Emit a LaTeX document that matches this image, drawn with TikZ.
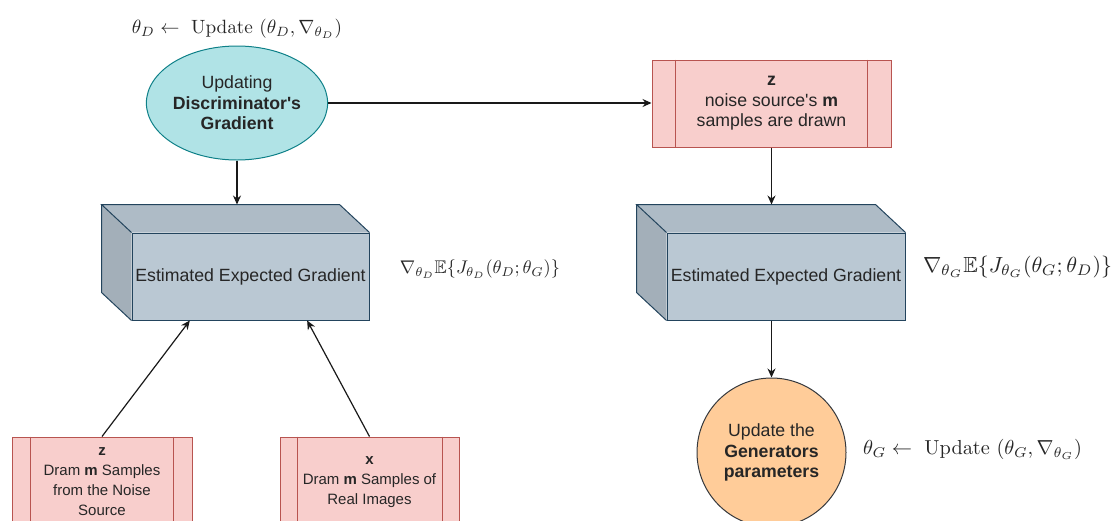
\documentclass[tikz,border=0pt]{standalone}
\usepackage[no-math]{fontspec}
\usepackage{amsmath,amssymb}
\usepackage{graphicx}
\newfontfamily\arial{Liberation Sans}
\usetikzlibrary{arrows.meta,shapes.geometric,calc}

\definecolor{cyanfill}{HTML}{B0E3E6}
\definecolor{cyanline}{HTML}{0E8088}
\definecolor{pinkfill}{HTML}{F8CECC}
\definecolor{pinkline}{HTML}{B85450}
\definecolor{cubefront}{HTML}{BAC8D3}
\definecolor{cubetop}{HTML}{AEBBC6}
\definecolor{cubeside}{HTML}{A3AFB9}
\definecolor{cubeline}{HTML}{23445D}
\definecolor{orangefill}{HTML}{FFCC99}
\definecolor{orangeline}{HTML}{36393D}
\definecolor{ink}{HTML}{262626}

\begin{document}
\begin{tikzpicture}[x=1pt,y=-1pt,
  txt/.style={font=\arial\fontsize{17.7}{20.5}\selectfont, text=ink, align=center},
  smalltxt/.style={font=\arial\fontsize{15}{20}\selectfont, text=ink, align=center},
  procbox/.style={rectangle, draw=pinkline, fill=pinkfill, line width=1pt, inner sep=0pt},
  cubeface/.style={rectangle, draw=cubeline, fill=cubefront, line width=1pt, inner sep=0pt,
    minimum width=237pt, minimum height=87pt},
  cubeback/.style={draw=cubeline, line width=1pt, line join=miter},
  arr/.style={draw=black!90, line width=1.2pt, -{Stealth[length=9pt,width=8pt]}},
  eq/.style={inner sep=0pt, text=ink}]
\useasboundingbox (0,0) rectangle (1116,520);

% discriminator branch
\node[ellipse, draw=cyanline, fill=cyanfill, line width=1pt, minimum width=181pt,
  minimum height=114pt, inner sep=0pt, txt] (updD) at (237,103)
  {Updating\\\textbf{Discriminator's}\\\textbf{Gradient}};

\node[cubeface, txt] (gradD) at (250.5,276.5) {Estimated Expected Gradient};
\coordinate (gradDnw) at ($(gradD.north west)+(-30,-28)$);
\coordinate (gradDne) at ($(gradD.north east)+(-30,-28)$);
\coordinate (gradDsw) at ($(gradD.south west)+(-30,-28)$);
\fill[cubetop] (gradD.north west) -- (gradDnw) -- (gradDne) -- (gradD.north east) -- cycle;
\fill[cubeside] (gradD.north west) -- (gradDnw) -- (gradDsw) -- (gradD.south west) -- cycle;
\draw[cubeback] (gradD.north west) -- (gradDnw) -- (gradDne) -- (gradD.north east);
\draw[cubeback] (gradDnw) -- (gradDsw) -- (gradD.south west);

\node[procbox, smalltxt, minimum width=180pt, minimum height=90pt] (zsrc) at (102,482)
  {\textbf{z}\\Dram \textbf{m} Samples\\from the Noise\\Source};
\node[procbox, smalltxt, minimum width=179pt, minimum height=90pt] (xsrc) at (369.5,482)
  {\textbf{x}\\Dram \textbf{m} Samples of\\Real Images};

% generator branch
\node[procbox, txt, minimum width=239pt, minimum height=87pt] (noise) at (771.5,103.5)
  {\textbf{z}\\noise source's \textbf{m}\\samples are drawn};

\node[cubeface, txt, minimum width=238pt] (gradG) at (786,276.5) {Estimated Expected Gradient};
\coordinate (gradGnw) at ($(gradG.north west)+(-30,-28)$);
\coordinate (gradGne) at ($(gradG.north east)+(-30,-28)$);
\coordinate (gradGsw) at ($(gradG.south west)+(-30,-28)$);
\fill[cubetop] (gradG.north west) -- (gradGnw) -- (gradGne) -- (gradG.north east) -- cycle;
\fill[cubeside] (gradG.north west) -- (gradGnw) -- (gradGsw) -- (gradG.south west) -- cycle;
\draw[cubeback] (gradG.north west) -- (gradGnw) -- (gradGne) -- (gradG.north east);
\draw[cubeback] (gradGnw) -- (gradGsw) -- (gradG.south west);

\node[circle, draw=orangeline, fill=orangefill, line width=1pt, minimum size=149pt,
  inner sep=0pt, txt] (updG) at (771.5,452.5)
  {Update the\\\textbf{Generators}\\\textbf{parameters}};

% double side bars of the process boxes
\draw[pinkline, line width=1pt] ($(noise.north west)+(24,0)$) -- ($(noise.south west)+(24,0)$)
  ($(noise.north east)+(-24,0)$) -- ($(noise.south east)+(-24,0)$);
\draw[pinkline, line width=1pt] ($(zsrc.north west)+(19,0)$) -- ($(zsrc.south west)+(19,0)$)
  ($(zsrc.north east)+(-19,0)$) -- ($(zsrc.south east)+(-19,0)$);
\draw[pinkline, line width=1pt] ($(xsrc.north west)+(18,0)$) -- ($(xsrc.south west)+(18,0)$)
  ($(xsrc.north east)+(-17,0)$) -- ($(xsrc.south east)+(-17,0)$);

% connectors
\coordinate (inZ) at ($(gradD.south west)!0.245!(gradD.south east)$);
\coordinate (inX) at ($(gradD.south west)!0.738!(gradD.south east)$);
\draw[arr] (updD.east) -- (updD.east -| noise.west);
\draw[arr] (updD.south) -- (updD.south |- gradDnw);
\draw[arr] (noise.south) -- (noise.south |- gradGnw);
\draw[arr] (updG.north |- gradG.south) -- (updG.north);
\draw[arr] (zsrc.north) -- (inZ);
\draw[arr] (xsrc.north) -- (inX);

% update rules and gradient estimates
\node[eq] (ruleD) at (237,29)
  {\resizebox{210pt}{!}{$\theta_D \leftarrow\ \mathrm{Update}\ (\theta_D, \nabla_{\theta_D})$}};
\node[eq] (estD) at (480,269)
  {\resizebox{160pt}{!}{$\nabla_{\theta_D}\mathbb{E}\{J_{\theta_D}(\theta_D;\theta_G)\}$}};
\node[eq] (estG) at (1017.5,267)
  {\resizebox{189pt}{!}{$\nabla_{\theta_G}\mathbb{E}\{J_{\theta_G}(\theta_G;\theta_D)\}$}};
\node[eq] (ruleG) at (972.5,449)
  {\resizebox{219pt}{!}{$\theta_G \leftarrow\ \mathrm{Update}\ (\theta_G, \nabla_{\theta_G})$}};
\end{tikzpicture}
\end{document}
